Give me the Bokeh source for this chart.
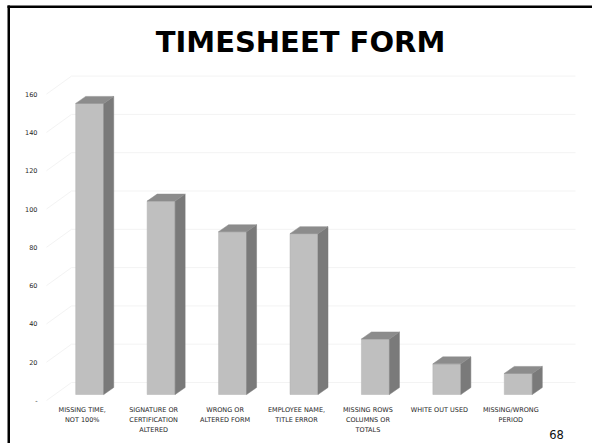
import numpy as np
from bokeh.plotting import figure
from bokeh.models import Range1d
from bokeh.core.properties import value
from bokeh.embed import file_html
from bokeh.resources import INLINE

# ---- data ----
categories = ["MISSING TIME,\nNOT 100%", "SIGNATURE OR\nCERTIFICATION\nALTERED",
              "WRONG OR\nALTERED FORM", "EMPLOYEE NAME,\nTITLE ERROR",
              "MISSING ROWS\nCOLUMNS OR\nTOTALS", "WHITE OUT USED", "MISSING/WRONG\nPERIOD"]
counts = [152, 101, 85, 84, 29, 16, 11]
y_ticks = [0, 20, 40, 60, 80, 100, 120, 140, 160]
y_tick_labels = ["-", "20", "40", "60", "80", "100", "120", "140", "160"]
title_text = "TIMESHEET FORM"
page_number = "68"

# ---- geometry: the frame covers the whole figure ----
W, H = 592, 443
ax_left_px, zero_px = 46, 400      # left end of the category axis, baseline of the value axis
px_per_cat = 71.43
px_per_val = 1.915
ux = 1.0 / px_per_cat
uy = 1.0 / px_per_val

def dx(px):
    return -0.5 + (px - ax_left_px) * ux

def dy(py):
    return (zero_px - py) * uy

p = figure(width=W, height=H, output_backend="svg", toolbar_location=None,
           x_range=Range1d(dx(0), dx(W)), y_range=Range1d(dy(H), dy(0)),
           min_border=0)
p.outline_line_color = None
p.grid.visible = False
p.axis.visible = False
p.background_fill_color = "white"
p.border_fill_color = "white"

# ---- faint 3D wall gridlines ----
xa0 = dx(ax_left_px)
xend = dx(575)
wdx, wdy = 25 * ux, 18 * uy
gx0, gy0, gx1, gy1 = [], [], [], []
for t in y_ticks:
    gx0.append(xa0); gy0.append(t); gx1.append(xa0 + wdx); gy1.append(t + wdy)
    gx0.append(xa0 + wdx); gy0.append(t + wdy); gx1.append(xend); gy1.append(t + wdy)
p.segment(gx0, gy0, gx1, gy1, line_color="#f3f3f3", line_width=1)

# ---- 3D bars ----
idx = np.arange(len(counts))
vals = np.array(counts, dtype=float)
base = 6 * uy
fxl = idx - 6.5 * ux
fxr = idx + 21.5 * ux
ddx, ddy = 10 * ux, 7 * uy

front_xs = [[a, b, b, a] for a, b in zip(fxl, fxr)]
front_ys = [[base, base, base + v, base + v] for v in vals]
side_xs = [[b, b + ddx, b + ddx, b] for b in fxr]
side_ys = [[base, base + ddy, base + ddy + v, base + v] for v in vals]
top_xs = [[a, b, b + ddx, a + ddx] for a, b in zip(fxl, fxr)]
top_ys = [[base + v, base + v, base + v + ddy, base + v + ddy] for v in vals]

p.patches(front_xs, front_ys, fill_color="#bfbfbf", line_color="#b3b3b3", line_width=0.5)
p.patches(side_xs, side_ys, fill_color="#7a7a7a", line_color="#7a7a7a", line_width=0.5)
p.patches(top_xs, top_ys, fill_color="#8c8c8c", line_color="#8c8c8c", line_width=0.5)

# ---- value-axis tick labels ----
p.text(x=[dx(37)] * len(y_ticks), y=y_ticks, text=y_tick_labels,
       text_font=value("DejaVu Sans"), text_font_size="6.5px",
       text_align="right", text_baseline="middle", text_color="#262626")

# ---- category labels ----
p.text(x=idx, y=[dy(405)] * len(categories), text=categories,
       text_font=value("DejaVu Sans"), text_font_size="6.5px",
       text_align="center", text_baseline="top", text_line_height=1.3,
       text_color="#262626")

# ---- title and page number ----
p.text(x=[dx(300)], y=[dy(41.5)], text=[title_text],
       text_font=value("DejaVu Sans"), text_font_style="bold", text_font_size="29px",
       text_align="center", text_baseline="middle", text_color="black")
p.text(x=[dx(556)], y=[dy(433.5)], text=[page_number],
       text_font=value("DejaVu Sans"), text_font_size="11.5px",
       text_align="center", text_baseline="middle", text_color="#111111")

# ---- slide border (top and left edges) ----
p.quad(left=[dx(7), dx(7)], right=[dx(W + 5), dx(9.5)],
       top=[dy(5), dy(5)], bottom=[dy(7.5), dy(H + 5)],
       fill_color="black", line_color=None)

open("out.html", "w").write(file_html(p, INLINE))
